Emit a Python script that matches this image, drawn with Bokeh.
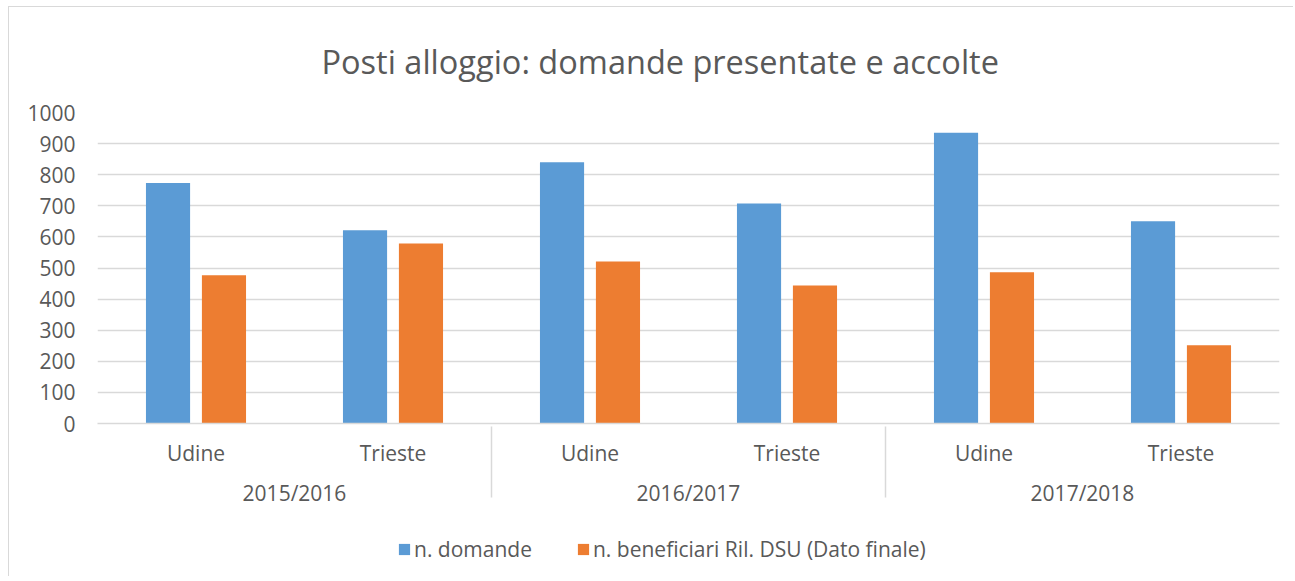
from bokeh.plotting import figure
from bokeh.models import FactorRange, Range1d, ColumnDataSource, Legend, LegendItem, FixedTicker, Title
from bokeh.layouts import column
from bokeh.transform import dodge
from bokeh.embed import file_html
from bokeh.resources import INLINE

years = ["2015/2016", "2016/2017", "2017/2018"]
sites = ["Udine", "Trieste"]
domande = [773, 621, 840, 707, 935, 650]
beneficiari = [477, 579, 521, 444, 486, 252]
y_ticks = [0, 100, 200, 300, 400, 500, 600, 700, 800, 900, 1000]
series_labels = ["n. domande", "n. beneficiari Ril. DSU (Dato finale)"]

factors = [(y, s) for y in years for s in sites]
src = ColumnDataSource(dict(x=factors, dom=domande, ben=beneficiari))

FONT = "Open Sans"
GREY = "#595959"
BLUE = "#5B9BD5"
ORANGE = "#ED7D31"
BORDER = "1px solid #d9d9d9"

p = figure(
    x_range=FactorRange(*factors, factor_padding=0, group_padding=0, range_padding=0),
    y_range=Range1d(0, 1000),
    width=1284, height=518,
    frame_width=1181, frame_height=310,
    output_backend="svg", toolbar_location=None,
    min_border_left=88, min_border_right=15, min_border_top=104, min_border_bottom=104,
)
p.styles = {"border-left": BORDER, "border-top": BORDER}

t = Title(text="Posti alloggio: domande presentate e accolte", align="left",
          text_font=FONT, text_font_size="32.5px", text_font_style="normal",
          text_color=GREY, standoff=58, offset=224)
p.add_layout(t, "above")

p.vbar(x=dodge("x", -0.142, range=p.x_range), top="dom", width=0.224, source=src,
       fill_color=BLUE, line_color=None)
p.vbar(x=dodge("x", 0.142, range=p.x_range), top="ben", width=0.224, source=src,
       fill_color=ORANGE, line_color=None)

p.outline_line_color = None
p.xgrid.grid_line_color = None
p.ygrid.grid_line_color = "#d9d9d9"
p.ygrid.grid_line_width = 1.3
p.yaxis.ticker = FixedTicker(ticks=y_ticks)
p.yaxis.axis_line_color = None
p.yaxis.major_tick_line_color = None
p.yaxis.minor_tick_line_color = None
p.yaxis.major_label_text_font = FONT
p.yaxis.major_label_text_font_size = "21px"
p.yaxis.major_label_text_color = GREY
p.yaxis.major_label_standoff = 16

xa = p.xaxis[0]
xa.axis_line_color = "#d9d9d9"
xa.axis_line_width = 1.5
xa.major_tick_line_color = None
xa.minor_tick_line_color = None
xa.major_label_text_font = FONT
xa.major_label_text_font_size = "21px"
xa.major_label_text_color = GREY
xa.major_label_standoff = 9
xa.group_text_font = FONT
xa.group_text_font_size = "21px"
xa.group_text_color = GREY
xa.group_text_font_style = "normal"
xa.separator_line_color = "#d9d9d9"
xa.separator_line_width = 1.5

# legend strip below the chart (key swatches only, placed outside the visible range)
lg = figure(width=1284, height=50, x_range=Range1d(0, 1), y_range=Range1d(0, 1),
            output_backend="svg", toolbar_location=None,
            x_axis_type=None, y_axis_type=None, min_border=0)
lg.outline_line_color = None
lg.styles = {"border-left": BORDER}
k1 = lg.vbar(x=[-10], top=[0], width=0.1, fill_color=BLUE, line_color=None)
k2 = lg.vbar(x=[-10], top=[0], width=0.1, fill_color=ORANGE, line_color=None)
legend = Legend(items=[LegendItem(label=series_labels[0], renderers=[k1]),
                       LegendItem(label=series_labels[1], renderers=[k2])],
                orientation="horizontal", location=(300, 13),
                label_text_font=FONT, label_text_font_size="21px", label_text_color=GREY,
                glyph_width=14, glyph_height=14, spacing=44, label_standoff=3,
                border_line_color=None, background_fill_alpha=0, margin=0, padding=0)
lg.add_layout(legend, "center")

layout = column(p, lg, spacing=0)
layout.styles = {"margin-left": "8px", "margin-top": "6px"}

open("out.html", "w").write(file_html(layout, INLINE))
